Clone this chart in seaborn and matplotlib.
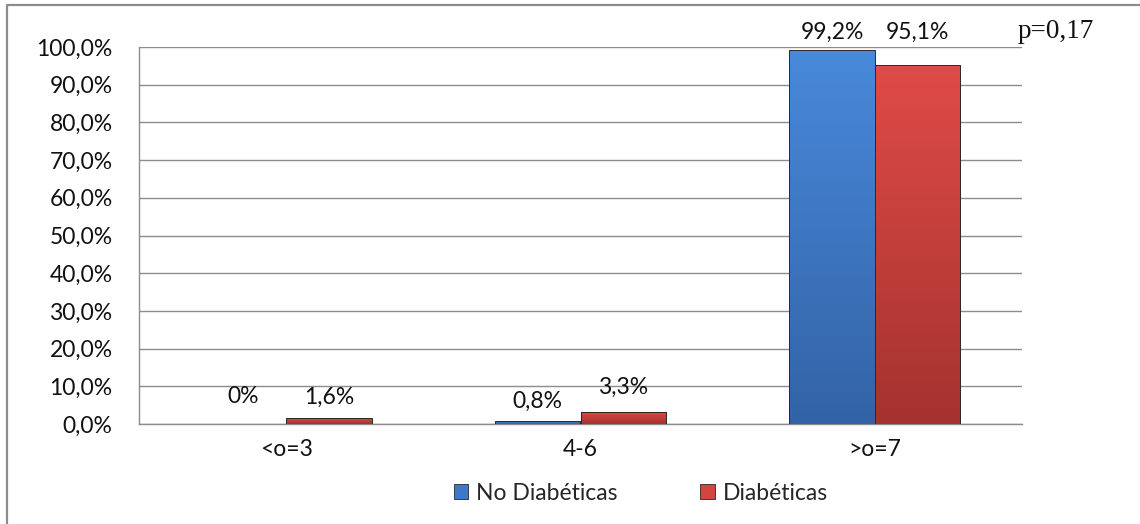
import matplotlib
matplotlib.use("Agg")
import matplotlib.pyplot as plt
from matplotlib.lines import Line2D
from matplotlib.patches import Patch
from matplotlib.colors import to_rgb
import seaborn as sns
import pandas as pd
import numpy as np

# Data
categories = ["<o=3", "4-6", ">o=7"]
groups = ["No Diabéticas", "Diabéticas"]
no_diabeticas = [0.0, 0.8, 99.2]
diabeticas = [1.6, 3.3, 95.1]
value_labels_no = ["0%", "0,8%", "99,2%"]
value_labels_di = ["1,6%", "3,3%", "95,1%"]
p_value_text = "p=0,17"

df = pd.DataFrame({
    "categoria": categories * 2,
    "grupo": [groups[0]] * 3 + [groups[1]] * 3,
    "valor": no_diabeticas + diabeticas,
})

sns.set_theme(style="white")
plt.rcParams["font.family"] = ["Lato", "DejaVu Sans"]
FS = 16.5

fig = plt.figure(figsize=(11.4, 5.24), dpi=100)
ax = fig.add_axes([139 / 1140, 1 - 424 / 524, (1022 - 139) / 1140, (424 - 47) / 524])

palette = {"No Diabéticas": "#3d79c9", "Diabéticas": "#d24440"}
shade = {"No Diabéticas": ("#4889da", "#3363a6"), "Diabéticas": ("#df4b47", "#a5322f")}
sns.barplot(data=df, x="categoria", y="valor", hue="grupo", order=categories,
            hue_order=groups, palette=palette, width=0.58, ax=ax,
            edgecolor="#2a2a2a", linewidth=0.7, saturation=1, legend=False, zorder=4)

# Vertical shading inside each bar, drawn beneath the bar outline
for container, g in zip(ax.containers, groups):
    top, bottom = (np.array(to_rgb(c)) for c in shade[g])
    for bar in container:
        h = bar.get_height()
        if h <= 0:
            continue
        t = np.linspace(0, 1, 64)[:, None]
        img = np.repeat((top * (1 - t) + bottom * t)[:, None, :], 2, axis=1)
        x0, w = bar.get_x(), bar.get_width()
        im = ax.imshow(img, extent=[x0, x0 + w, 0, h], origin="upper",
                       aspect="auto", zorder=3.5, interpolation="bilinear")
        im.set_clip_path(bar)
        bar.set_facecolor("none")
ax.set_xlim(-0.5, 2.5)
ax.set_ylim(0, 100)

ax.set_yticks(np.arange(0, 101, 10))
ax.set_yticklabels([f"{v},0%" for v in range(0, 101, 10)], fontsize=FS, color="#111111")
ax.set_xlabel("")
ax.set_ylabel("")
ax.tick_params(axis="x", which="major", length=0, labelsize=FS, pad=11, colors="#111111")
ax.set_xticks([-0.5, 0.5, 1.5, 2.5], minor=True)
ax.tick_params(axis="x", which="minor", length=6, width=1, color="#888888", direction="out")
ax.tick_params(axis="y", length=6, width=1, color="#888888", direction="out", pad=13)
ax.grid(axis="y", color="#8c8c8c", linewidth=1, zorder=0)
ax.set_axisbelow(True)
for side in ["top", "right"]:
    ax.spines[side].set_visible(False)
for side in ["left", "bottom"]:
    ax.spines[side].set_color("#8c8c8c")
    ax.spines[side].set_linewidth(1)

# Value labels above bars
offsets_no = [7.2, 5.3, 4.8]
offsets_di = [5.6, 6.5, 8.9]
for i, (v, t, o) in enumerate(zip(no_diabeticas, value_labels_no, offsets_no)):
    ax.text(i - 0.145, v + o, t, ha="center", va="center", fontsize=FS, color="#111111",
            clip_on=False)
for i, (v, t, o) in enumerate(zip(diabeticas, value_labels_di, offsets_di)):
    ax.text(i + 0.145, v + o, t, ha="center", va="center", fontsize=FS, color="#111111",
            clip_on=False)

# Legend
handles = [Patch(facecolor=palette[g], edgecolor="#2a2a2a", linewidth=0.6) for g in groups]
ax.legend(handles, groups, loc="center", bbox_to_anchor=(641 / 1140, 1 - 493 / 524),
          bbox_transform=fig.transFigure, ncol=2, frameon=False, fontsize=FS,
          handlelength=0.65, handleheight=0.65, handletextpad=0.35, columnspacing=3.6)

# p-value annotation
fig.text(1018 / 1140, 1 - 32 / 524, p_value_text, fontsize=19.5,
         family=["Liberation Serif", "DejaVu Serif"], ha="left", va="center", color="#111111")

# Outer frame (left and top edges)
fig.add_artist(Line2D([7 / 1140, 7 / 1140, 1.0], [0.0, 1 - 5 / 524, 1 - 5 / 524],
                      transform=fig.transFigure, color="#8c8c8c", linewidth=1.6))

fig.savefig("out.png", dpi=100, facecolor="white")
